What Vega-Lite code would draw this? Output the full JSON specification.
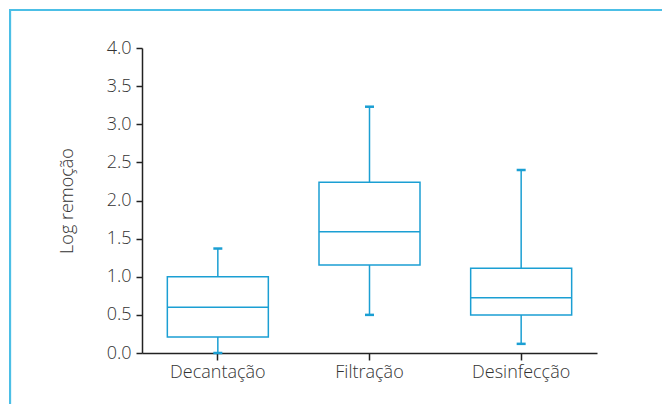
{
  "$schema": "https://vega.github.io/schema/vega-lite/v6.json",
  "width": 455,
  "height": 305,
  "autosize": {"type": "none"},
  "padding": {"left": 142, "top": 48, "right": 65, "bottom": 51},
  "background": "white",
  "config": {
    "view": {"stroke": null},
    "font": "Open Sans",
    "axis": {
      "labelFont": "Open Sans",
      "labelFontSize": 18,
      "labelFontWeight": 300,
      "labelColor": "#333333",
      "labelOverlap": false,
      "titleFont": "Open Sans",
      "titleFontSize": 18,
      "titleFontWeight": 300,
      "titleColor": "#333333",
      "domainColor": "#222222",
      "tickColor": "#222222",
      "domainWidth": 1.5,
      "tickWidth": 1.5,
      "grid": false
    }
  },
  "data": {
    "values": [
      {"etapa": "Decantação", "min": 0.0, "q1": 0.21, "median": 0.60, "q3": 1.0, "max": 1.37},
      {"etapa": "Filtração", "min": 0.50, "q1": 1.155, "median": 1.59, "q3": 2.24, "max": 3.23},
      {"etapa": "Desinfecção", "min": 0.12, "q1": 0.50, "median": 0.725, "q3": 1.11, "max": 2.40}
    ]
  },
  "resolve": {"scale": {"x": "independent", "y": "independent"}, "axis": {"x": "independent", "y": "independent"}},
  "layer": [
    {
      "mark": {"type": "rect", "fill": null, "stroke": "#4cbfe6", "strokeWidth": 2, "clip": false},
      "encoding": {
        "x": {"datum": -0.29, "type": "quantitative", "scale": {"domain": [0, 1]}, "axis": null},
        "x2": {"datum": 1.6},
        "y": {"datum": 4.5, "type": "quantitative", "scale": {"domain": [0, 4]}, "axis": null},
        "y2": {"datum": -1}
      }
    },
    {
      "encoding": {
        "x": {
          "field": "etapa",
          "type": "nominal",
          "sort": null,
          "scale": {"paddingInner": 0, "paddingOuter": 0},
          "axis": {"title": null, "labelAngle": 0, "tickSize": 7, "labelPadding": 3}
        }
      },
      "layer": [
        {
          "mark": {"type": "rule", "color": "#1b9fd3", "strokeWidth": 1.5},
          "encoding": {
            "y": {
              "field": "min",
              "type": "quantitative",
              "scale": {"domain": [0, 4], "nice": false},
              "axis": {"title": "Log remoção", "values": [0, 0.5, 1, 1.5, 2, 2.5, 3, 3.5, 4], "tickCount": 12, "format": ".1f", "tickSize": 6, "labelPadding": 5, "titlePadding": 30}
            },
            "y2": {"field": "q1"}
          }
        },
        {
          "mark": {"type": "rule", "color": "#1b9fd3", "strokeWidth": 1.5},
          "encoding": {
            "y": {"field": "q3", "type": "quantitative"},
            "y2": {"field": "max"}
          }
        },
        {
          "mark": {"type": "bar", "size": 101, "fill": "white", "stroke": "#1b9fd3", "strokeWidth": 1.5},
          "encoding": {
            "y": {"field": "q1", "type": "quantitative"},
            "y2": {"field": "q3"}
          }
        },
        {
          "mark": {"type": "tick", "size": 101, "thickness": 1.5, "color": "#1b9fd3", "opacity": 1},
          "encoding": {"y": {"field": "median", "type": "quantitative"}}
        },
        {
          "mark": {"type": "tick", "size": 9, "thickness": 2.5, "color": "#1b9fd3", "opacity": 1},
          "encoding": {"y": {"field": "min", "type": "quantitative"}}
        },
        {
          "mark": {"type": "tick", "size": 9, "thickness": 2.5, "color": "#1b9fd3", "opacity": 1},
          "encoding": {"y": {"field": "max", "type": "quantitative"}}
        }
      ]
    }
  ]
}
